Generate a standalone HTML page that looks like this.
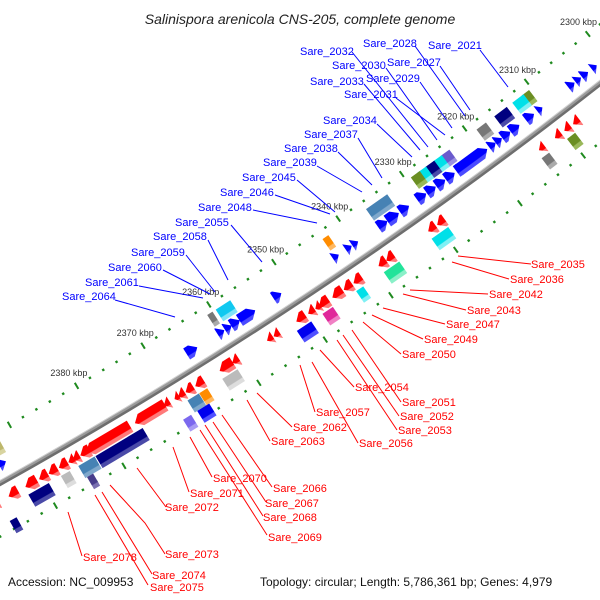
<!DOCTYPE html>
<html><head><meta charset="utf-8"><title>Salinispora arenicola CNS-205 genome map</title>
<style>
html,body{margin:0;padding:0;background:#fff;width:600px;height:600px;overflow:hidden;}
svg{display:block;font-family:"Liberation Sans",sans-serif;overflow:hidden;}
.bl{fill:#0000ff;font-size:11px;}
.rl{fill:#ff0000;font-size:11px;}
.bln{stroke:#0000ff;stroke-width:1;}
.rln{stroke:#ff0000;stroke-width:1;}
.tk{fill:#333;font-size:9px;}
</style></head>
<body>
<svg id="map" width="600" height="600" viewBox="0 0 600 600" xmlns="http://www.w3.org/2000/svg">
<defs id="defs"><clipPath id="frameclip"><rect x="0" y="0" width="600" height="600"/></clipPath></defs>
<rect width="600" height="600" fill="#fff"/>
<text x="300" y="24" text-anchor="middle" font-size="14" font-style="italic" fill="#222">Salinispora arenicola CNS-205, complete genome</text>
<g clip-path="url(#frameclip)">
<g id="ticks"></g>
<g id="backbone"></g>
<g id="features"></g>
</g>
<g id="labels">
<g>
<line class="bln" x1="352" y1="52" x2="428" y2="147"/><text class="bl" x="300" y="55">Sare_2032</text>
<line class="bln" x1="415" y1="46" x2="465" y2="116"/><text class="bl" x="363" y="47">Sare_2028</text>
<line class="bln" x1="480" y1="50" x2="508" y2="87"/><text class="bl" x="428" y="49">Sare_2021</text>
<line class="bln" x1="386" y1="68" x2="437" y2="140"/><text class="bl" x="332" y="69">Sare_2030</text>
<line class="bln" x1="440" y1="66" x2="470" y2="110"/><text class="bl" x="387" y="66">Sare_2027</text>
<line class="bln" x1="364" y1="84" x2="420" y2="150"/><text class="bl" x="310" y="85">Sare_2033</text>
<line class="bln" x1="420" y1="82" x2="452" y2="128"/><text class="bl" x="366" y="82">Sare_2029</text>
<line class="bln" x1="396" y1="98" x2="445" y2="135"/><text class="bl" x="344" y="98">Sare_2031</text>
<line class="bln" x1="377" y1="124" x2="412" y2="157"/><text class="bl" x="323" y="124">Sare_2034</text>
<line class="bln" x1="358" y1="138" x2="382" y2="178"/><text class="bl" x="304" y="138">Sare_2037</text>
<line class="bln" x1="338" y1="152" x2="372" y2="185"/><text class="bl" x="284" y="152">Sare_2038</text>
<line class="bln" x1="317" y1="166" x2="362" y2="192"/><text class="bl" x="263" y="166">Sare_2039</text>
<line class="bln" x1="297" y1="180" x2="335" y2="212"/><text class="bl" x="242" y="181">Sare_2045</text>
<line class="bln" x1="275" y1="195" x2="330" y2="214"/><text class="bl" x="220" y="196">Sare_2046</text>
<line class="bln" x1="253" y1="210" x2="317" y2="223"/><text class="bl" x="198" y="211">Sare_2048</text>
<line class="bln" x1="231" y1="225" x2="262" y2="262"/><text class="bl" x="175" y="226">Sare_2055</text>
<line class="bln" x1="208" y1="240" x2="228" y2="280"/><text class="bl" x="153" y="240">Sare_2058</text>
<line class="bln" x1="186" y1="255" x2="215" y2="292"/><text class="bl" x="131" y="256">Sare_2059</text>
<line class="bln" x1="163" y1="270" x2="210" y2="294"/><text class="bl" x="108" y="271">Sare_2060</text>
<line class="bln" x1="139" y1="286" x2="203" y2="298"/><text class="bl" x="85" y="286">Sare_2061</text>
<line class="bln" x1="115" y1="300" x2="175" y2="317"/><text class="bl" x="62" y="300">Sare_2064</text>
</g>
<g>
<line class="rln" x1="531" y1="264" x2="458" y2="256"/><text class="rl" x="531" y="268">Sare_2035</text>
<line class="rln" x1="509" y1="279" x2="452" y2="262"/><text class="rl" x="510" y="283">Sare_2036</text>
<line class="rln" x1="488" y1="294" x2="410" y2="290"/><text class="rl" x="489" y="298">Sare_2042</text>
<line class="rln" x1="466" y1="310" x2="403" y2="294"/><text class="rl" x="467" y="314">Sare_2043</text>
<line class="rln" x1="445" y1="324" x2="383" y2="308"/><text class="rl" x="446" y="328">Sare_2047</text>
<line class="rln" x1="423" y1="339" x2="372" y2="315"/><text class="rl" x="424" y="343">Sare_2049</text>
<line class="rln" x1="401" y1="354" x2="363" y2="322"/><text class="rl" x="402" y="358">Sare_2050</text>
<line class="rln" x1="354" y1="387" x2="320" y2="350"/><text class="rl" x="355" y="391">Sare_2054</text>
<line class="rln" x1="401" y1="402" x2="352" y2="330"/><text class="rl" x="402" y="406">Sare_2051</text>
<line class="rln" x1="315" y1="412" x2="300" y2="365"/><text class="rl" x="316" y="416">Sare_2057</text>
<line class="rln" x1="399" y1="416" x2="343" y2="335"/><text class="rl" x="400" y="420">Sare_2052</text>
<line class="rln" x1="292" y1="427" x2="257" y2="393"/><text class="rl" x="293" y="431">Sare_2062</text>
<line class="rln" x1="397" y1="430" x2="337" y2="340"/><text class="rl" x="398" y="434">Sare_2053</text>
<line class="rln" x1="270" y1="441" x2="247" y2="400"/><text class="rl" x="271" y="445">Sare_2063</text>
<line class="rln" x1="358" y1="443" x2="312" y2="362"/><text class="rl" x="359" y="447">Sare_2056</text>
<line class="rln" x1="212" y1="477" x2="190" y2="437"/><text class="rl" x="213" y="482">Sare_2070</text>
<line class="rln" x1="272" y1="487" x2="222" y2="415"/><text class="rl" x="273" y="492">Sare_2066</text>
<line class="rln" x1="189" y1="492" x2="173" y2="447"/><text class="rl" x="190" y="497">Sare_2071</text>
<line class="rln" x1="266" y1="502" x2="213" y2="422"/><text class="rl" x="265" y="507">Sare_2067</text>
<line class="rln" x1="166" y1="507" x2="137" y2="468"/><text class="rl" x="165" y="511">Sare_2072</text>
<line class="rln" x1="263" y1="516" x2="205" y2="425"/><text class="rl" x="263" y="521">Sare_2068</text>
<line class="rln" x1="267" y1="535" x2="200" y2="430"/><text class="rl" x="268" y="541">Sare_2069</text>
<polyline class="rln" fill="none" points="165,554 145,523 110,485"/><text class="rl" x="165" y="558">Sare_2073</text>
<line class="rln" x1="82" y1="556" x2="68" y2="512"/><text class="rl" x="83" y="561">Sare_2078</text>
<line class="rln" x1="152" y1="574" x2="102" y2="492"/><text class="rl" x="152" y="579">Sare_2074</text>
<line class="rln" x1="148" y1="585" x2="95" y2="495"/><text class="rl" x="150" y="591">Sare_2075</text>
</g>
</g>
<text x="8" y="586" font-size="12" fill="#111">Accession: NC_009953</text>
<text x="260" y="586" font-size="12" fill="#111">Topology: circular; Length: 5,786,361 bp; Genes: 4,979</text>
</svg>
<script>
// ---- data ----
const tickLabelKbp = [2300, 2310, 2320, 2330, 2340, 2350, 2360, 2370, 2380];
const fwdCenters = [2302.0, 2303.5, 2304.6, 2305.7, 2310.8, 2312.4, 2314.8, 2316.2, 2317.4, 2318.4, 2321.5, 2323.4, 2325.1, 2326.6, 2328.1, 2329.6, 2332.3, 2334.1, 2335.7, 2340.0, 2341.0, 2343.0, 2352.0, 2356.6, 2358.4, 2359.5, 2360.6, 2365.0, 2393.2];
const fwdLengths = [0.8, 1.0, 0.9, 1.0, 0.8, 1.3, 1.4, 1.3, 1.0, 1.0, 4.5, 1.4, 1.4, 1.4, 1.4, 1.4, 1.4, 1.8, 1.4, 0.9, 0.9, 0.9, 1.2, 2.4, 1.3, 1.0, 1.0, 1.6, 1.0];
const revCenters = [2308.1, 2309.5, 2311.0, 2313.6, 2329.5, 2330.9, 2337.4, 2338.6, 2342.4, 2343.9, 2345.5, 2347.6, 2348.5, 2349.5, 2351.1, 2354.8, 2355.8, 2361.0, 2362.4, 2366.4, 2367.9, 2369.1, 2369.8, 2371.3, 2373.8, 2380.0, 2383.4, 2384.7, 2385.4, 2386.6, 2388.1, 2389.5, 2391.3, 2393.9, 2396.5];
const revLengths = [1.0, 1.0, 1.0, 0.9, 1.2, 1.2, 1.2, 1.2, 1.3, 1.3, 1.6, 1.5, 0.8, 1.0, 1.4, 0.9, 0.9, 1.0, 2.0, 1.3, 1.2, 1.0, 0.7, 0.9, 4.5, 6.5, 1.4, 1.0, 0.9, 1.3, 1.3, 1.3, 1.7, 1.4, 1.0];
const cogInCenters = [2311.0, 2312.2, 2315.0, 2318.1, 2323.9, 2325.1, 2326.3, 2327.6, 2328.6, 2334.7, 2342.7, 2358.5, 2360.5, 2392.7];
const cogInLengths = [1.2, 1.8, 2.0, 1.5, 1.4, 1.4, 1.4, 1.4, 1.4, 3.3, 0.9, 2.2, 0.8, 1.2];
const cogInCats = ["olive", "cyan", "navy", "gray", "purple", "cyan", "navy", "cyan", "olive", "steel", "orange", "sky", "gray", "khaki"];
const cogOutCenters = [2309.7, 2313.8, 2330.4, 2337.9, 2342.8, 2347.7, 2351.3, 2362.5, 2366.5, 2368.0, 2367.6, 2370.0, 2379.0, 2383.8, 2384.3, 2386.9, 2390.8, 2395.5];
const cogOutLengths = [1.3, 1.2, 2.6, 2.4, 1.1, 1.6, 2.2, 2.3, 1.2, 1.7, 1.8, 1.2, 7.0, 2.4, 0.9, 1.3, 3.0, 1.0];
const cogOutCats = ["olive", "gray", "cyan", "spring", "cyan", "magenta", "blue", "silver", "orange", "steel", "blue", "slate", "navy", "steel", "dslate", "silver", "navy", "navy"];
const cogOutLevel = [0, 0, 0, 0, 0, 0, 0, 0, 0, 0, 1, 1, 0, 0, 1, 0, 0, 1];

// ---- geometry ----
const NS = "http://www.w3.org/2000/svg";
const CX = -2243, CY = -3532, R = 4599;
const A0 = 53.51, DEG_PER_KBP = 0.0977, K0 = 2320;
const PX_PER_KBP = R * DEG_PER_KBP * Math.PI / 180;
function angleOf(k) { return A0 + (k - K0) * DEG_PER_KBP; }
function pointAt(k, r) {
  const a = angleOf(k) * Math.PI / 180;
  return [CX + r * Math.cos(a), CY + r * Math.sin(a)];
}
function frame(parent, k, r) {
  const [x, y] = pointAt(k, r);
  const g = document.createElementNS(NS, "g");
  g.setAttribute("transform", "translate(" + x.toFixed(2) + "," + y.toFixed(2) + ") rotate(" + (angleOf(k) + 90).toFixed(3) + ")");
  parent.appendChild(g);
  return g;
}
const palette = {
  fwd: ["#0000ff", "#4a4aff"], rev: ["#ff0000", "#ff7a7a"],
  olive: ["#6b8e23", "#9ab85a"], cyan: ["#00e0e8", "#7ff0f4"], navy: ["#000080", "#4a4aa8"],
  gray: ["#777777", "#aaaaaa"], purple: ["#6a5acd", "#9a90e0"], steel: ["#4682b4", "#7fa8cc"],
  orange: ["#ff8c00", "#ffb860"], sky: ["#10c8f0", "#80e4f8"], khaki: ["#bdb76b", "#d8d4a0"],
  spring: ["#22e39a", "#8af0c8"], magenta: ["#e0289a", "#f080c4"], blue: ["#0000ee", "#5050ff"],
  silver: ["#bbbbbb", "#dddddd"], slate: ["#7b68ee", "#a89cf4"], dslate: ["#483d8b", "#7a70b0"]
};
const defs = document.getElementById("defs");
Object.keys(palette).forEach(function (key) {
  const lg = document.createElementNS(NS, "linearGradient");
  lg.setAttribute("id", "grad-" + key);
  lg.setAttribute("x1", "0"); lg.setAttribute("y1", "0");
  lg.setAttribute("x2", "0"); lg.setAttribute("y2", "1");
  [[0, 1], [0.28, 1], [0.34, 0], [1, 0]].forEach(function (s) {
    const st = document.createElementNS(NS, "stop");
    st.setAttribute("offset", s[0]);
    st.setAttribute("stop-color", palette[key][s[1]]);
    lg.appendChild(st);
  });
  defs.appendChild(lg);
});

// ---- tick rings ----
const ticks = document.getElementById("ticks");
[4553, 4646].forEach(function (ringR) {
  for (let k = 2292; k <= 2398; k += 2) {
    const major = (k % 10 === 0);
    const g = frame(ticks, k, ringR);
    const t = document.createElementNS(NS, "rect");
    const w = major ? 2 : 2.4, h = major ? 7 : 2.4;
    t.setAttribute("x", -w / 2); t.setAttribute("y", -h / 2);
    t.setAttribute("width", w); t.setAttribute("height", h);
    t.setAttribute("fill", "#1f8a1f");
    
    
    g.appendChild(t);
  }
});
tickLabelKbp.forEach(function (k) {
  const [x, y] = pointAt(k, 4538);
  const t = document.createElementNS(NS, "text");
  t.setAttribute("x", x.toFixed(1)); t.setAttribute("y", (y + 3).toFixed(1));
  t.setAttribute("text-anchor", "middle");
  t.setAttribute("class", "tk");
  t.textContent = k + " kbp";
  
  
  ticks.appendChild(t);
});

// ---- backbone (arc limited to the visible range) ----
const bb = document.getElementById("backbone");
[[R + 1.5, "#6e6e6e", 3], [R - 1, "#9a9a9a", 3], [R - 2.2, "#d0d0d0", 1]].forEach(function (c) {
  const p0 = pointAt(2294, c[0]), p1 = pointAt(2397, c[0]);
  const arc = document.createElementNS(NS, "path");
  arc.setAttribute("d", "M" + p0[0].toFixed(2) + "," + p0[1].toFixed(2) + " A" + c[0] + "," + c[0] + " 0 0 1 " + p1[0].toFixed(2) + "," + p1[1].toFixed(2));
  arc.setAttribute("fill", "none"); arc.setAttribute("stroke", c[1]); arc.setAttribute("stroke-width", c[2]);
  
  
  bb.appendChild(arc);
});

// ---- features ----
const feats = document.getElementById("features");
function arrow(k, len, r, dir, key, name) {
  const g = frame(feats, k, r);
  const w = Math.max(len * PX_PER_KBP, 4), h = 13;
  const head = Math.min(w, 7);
  let pts;
  if (dir > 0) pts = [[-w / 2, -h / 2], [w / 2 - head, -h / 2], [w / 2, 0], [w / 2 - head, h / 2], [-w / 2, h / 2]];
  else pts = [[w / 2, -h / 2], [-w / 2 + head, -h / 2], [-w / 2, 0], [-w / 2 + head, h / 2], [w / 2, h / 2]];
  const p = document.createElementNS(NS, "polygon");
  p.setAttribute("points", pts.map(function (q) { return q[0].toFixed(2) + "," + q[1].toFixed(2); }).join(" "));
  p.setAttribute("fill", "url(#grad-" + key + ")");
  
  
  g.appendChild(p);
}
function box(k, len, r, key, name) {
  const g = frame(feats, k, r);
  const w = Math.max(len * PX_PER_KBP, 3), h = 14;
  const b = document.createElementNS(NS, "rect");
  b.setAttribute("x", -w / 2); b.setAttribute("y", -h / 2);
  b.setAttribute("width", w); b.setAttribute("height", h);
  b.setAttribute("fill", "url(#grad-" + key + ")");
  
  
  g.appendChild(b);
}
fwdCenters.forEach(function (k, i) { arrow(k, fwdLengths[i], R - 16, -1, "fwd", "forward-cds"); });
revCenters.forEach(function (k, i) { arrow(k, revLengths[i], R + 16, 1, "rev", "reverse-cds"); });
cogInCenters.forEach(function (k, i) { box(k, cogInLengths[i], R - 31, cogInCats[i], "forward-cog-box"); });
cogOutCenters.forEach(function (k, i) { box(k, cogOutLengths[i], R + 31 + cogOutLevel[i] * 14, cogOutCats[i], "reverse-cog-box"); });
</script>
</body></html>
